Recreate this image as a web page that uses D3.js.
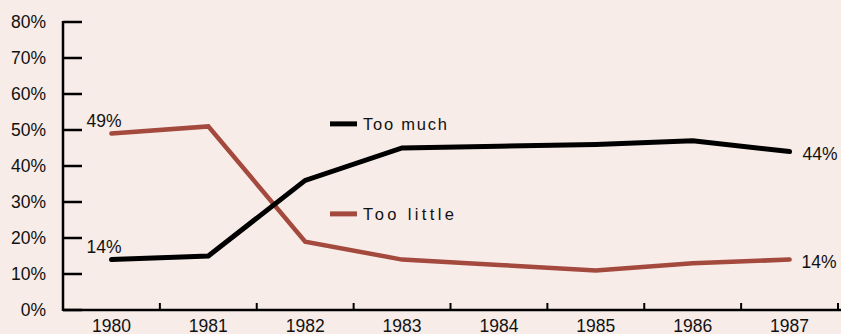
<!DOCTYPE html>
<html>
<head>
<meta charset="utf-8">
<script src="https://cdn.jsdelivr.net/npm/d3@7"></script>
<style>
  body { margin: 0; background: #f7ece8; }
  svg { display: block; font-family: "Liberation Sans", Arial, sans-serif; }
</style>
</head>
<body>
<div id="chart"></div>
<script>
// data
var years = ["1980", "1981", "1982", "1983", "1984", "1985", "1986", "1987"];
var tooMuch = [14, 15, 36, 45, 45.5, 46, 47, 44];
var tooLittle = [49, 51, 19, 14, 12.5, 11, 13, 14];
var yTicks = [0, 10, 20, 30, 40, 50, 60, 70, 80];

var W = 841, H = 334;
var margin = { top: 22, right: 2, bottom: 24, left: 63 },
    width = W - margin.left - margin.right,
    height = H - margin.top - margin.bottom;
var fs = 17.5;

var svg = d3.select("#chart")
    .append("svg")
    .attr("width", W)
    .attr("height", H)
    .append("g")
    .attr("transform", "translate(" + margin.left + "," + margin.top + ")");

var x = d3.scaleBand().domain(years).range([0, width - 1]).padding(0);
var y = d3.scaleLinear().domain([0, 80]).range([height, 0]);

// x axis: line, ticks between the years pointing up
svg.append("line")
    .attr("x1", 0).attr("x2", width + 2)
    .attr("y1", height).attr("y2", height)
    .attr("stroke", "#000").attr("stroke-width", 2.5);

svg.selectAll(".xtick")
    .data(years)
    .enter().append("line")
    .attr("x1", function (d) { return x(d) + x.bandwidth(); })
    .attr("x2", function (d) { return x(d) + x.bandwidth(); })
    .attr("y1", height).attr("y2", height - 7)
    .attr("stroke", "#000").attr("stroke-width", 2);

svg.selectAll(".xlab")
    .data(years)
    .enter().append("text")
    .attr("x", function (d) { return x(d) + x.bandwidth() / 2; })
    .attr("y", height + 21.5)
    .attr("text-anchor", "middle")
    .attr("font-size", fs)
    .attr("fill", "#111")
    .text(function (d) { return d; });

// y axis
svg.append("line")
    .attr("x1", 0).attr("x2", 0)
    .attr("y1", y(80) - 1).attr("y2", height + 1)
    .attr("stroke", "#000").attr("stroke-width", 2.5);

svg.selectAll(".ytick")
    .data(yTicks)
    .enter().append("line")
    .attr("x1", 0).attr("x2", 19)
    .attr("y1", function (d) { return y(d); })
    .attr("y2", function (d) { return y(d); })
    .attr("stroke", "#000").attr("stroke-width", 2.5);

svg.selectAll(".ylab")
    .data(yTicks)
    .enter().append("text")
    .attr("x", -17)
    .attr("y", function (d) { return y(d) + 6; })
    .attr("text-anchor", "end")
    .attr("font-size", fs)
    .attr("fill", "#111")
    .text(function (d) { return d + "%"; });

// lines
var line = d3.line()
    .x(function (d, i) { return x(years[i]) + x.bandwidth() / 2; })
    .y(function (d) { return y(d); });

svg.append("path")
    .datum(tooLittle)
    .attr("d", line)
    .attr("fill", "none")
    .attr("stroke", "#a3493e")
    .attr("stroke-width", 4.5)
    .attr("stroke-linecap", "round");

svg.append("path")
    .datum(tooMuch)
    .attr("d", line)
    .attr("fill", "none")
    .attr("stroke", "#000")
    .attr("stroke-width", 5)
    .attr("stroke-linecap", "round");

// end labels
var cx = function (i) { return x(years[i]) + x.bandwidth() / 2; };
var last = years.length - 1;
var labels = [
    { x: cx(0) - 25, y: y(tooLittle[0]) - 7, t: tooLittle[0] + "%" },
    { x: cx(0) - 25, y: y(tooMuch[0]) - 7, t: tooMuch[0] + "%" },
    { x: cx(last) + 13, y: y(tooMuch[last]) + 8, t: tooMuch[last] + "%" },
    { x: cx(last) + 12, y: y(tooLittle[last]) + 8, t: tooLittle[last] + "%" }
];
svg.selectAll(".endlab")
    .data(labels)
    .enter().append("text")
    .attr("x", function (d) { return d.x; })
    .attr("y", function (d) { return d.y; })
    .attr("font-size", fs)
    .attr("fill", "#111")
    .text(function (d) { return d.t; });

// legend
var legend = [
    { name: "Too much", color: "#000", v: 51.7, len: 84 },
    { name: "Too little", color: "#a3493e", v: 26.7, len: 91 }
];
var lg = svg.selectAll(".legend")
    .data(legend)
    .enter().append("g")
    .attr("transform", function (d) { return "translate(267," + y(d.v) + ")"; });
lg.append("line")
    .attr("x1", 0).attr("x2", 27)
    .attr("stroke", function (d) { return d.color; })
    .attr("stroke-width", 5);
lg.append("text")
    .attr("x", 33).attr("y", 6)
    .attr("font-size", 16.5)
    .attr("textLength", function (d) { return d.len; })
    .attr("lengthAdjust", "spacing")
    .attr("fill", "#111")
    .text(function (d) { return d.name; });
</script>
</body>
</html>
